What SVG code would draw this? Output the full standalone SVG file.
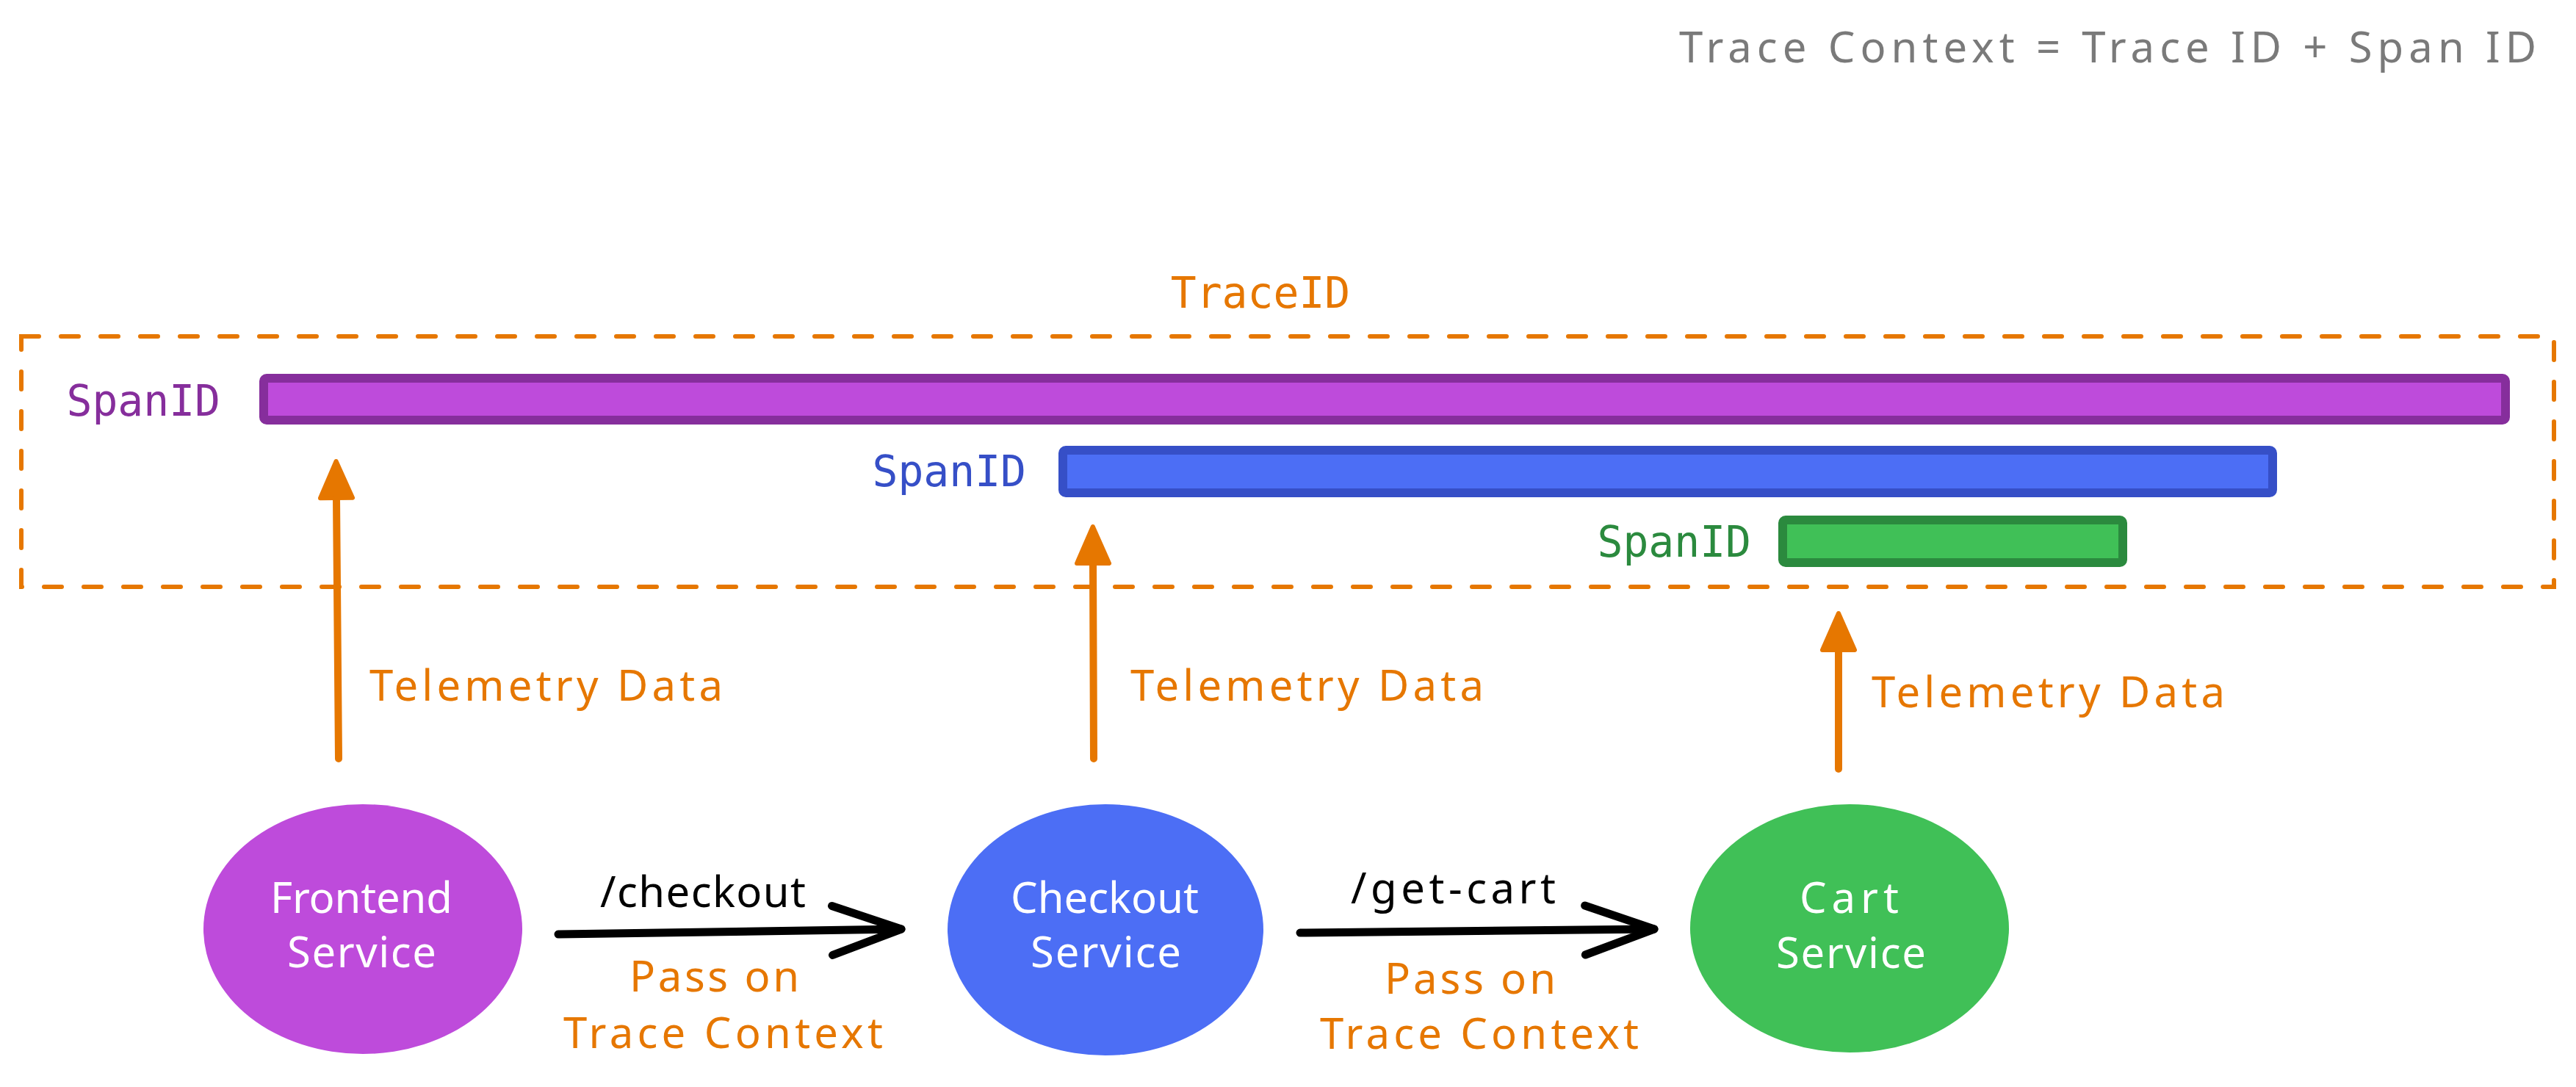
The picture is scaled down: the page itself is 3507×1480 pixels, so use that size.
<svg xmlns="http://www.w3.org/2000/svg" width="3507" height="1480" viewBox="0 0 3507 1480">
<style>
  .hand { font-family: "Noto Sans", "DejaVu Sans", sans-serif; font-size: 58px; }
  .mono { font-family: "DejaVu Sans Mono", "Liberation Mono", monospace; font-size: 58px; }
  .white { fill: #ffffff; }
  .orange { fill: #e67700; }
  .black { fill: #000000; }
  .gray { fill: #7a7a7a; }
  .tel { stroke: #e67700; stroke-width: 10; fill: none; stroke-linecap: round; }
  .call { stroke: #000000; stroke-width: 11; fill: none; stroke-linecap: round; stroke-linejoin: round; }
  .bar { stroke-width: 12; }
</style>
<defs>
  <marker id="headOrange" markerUnits="userSpaceOnUse" markerWidth="80" markerHeight="80" refX="0" refY="0" orient="auto" style="overflow:visible">
    <path d="M0,-22 L50,0 L0,22 Z" fill="#e67700" stroke="#e67700" stroke-width="6" stroke-linejoin="round"/>
  </marker>
  <marker id="headBlack" markerUnits="userSpaceOnUse" markerWidth="120" markerHeight="120" refX="0" refY="0" orient="auto" style="overflow:visible">
    <path d="M-94,-33 L0,0 L-94,34" fill="none" stroke="#000000" stroke-width="11" stroke-linecap="round" stroke-linejoin="round"/>
  </marker>
</defs>
<rect width="3507" height="1480" fill="#ffffff"/>

<text id="title" class="hand gray" x="2286" y="85" textLength="1167">Trace Context = Trace ID + Span ID</text>

<g id="trace">
  <rect x="29" y="458" width="3448" height="341" fill="none" stroke="#e67700" stroke-width="6" stroke-dasharray="24 30" stroke-linecap="round"/>
  <text class="mono orange" x="1716" y="419" text-anchor="middle">TraceID</text>
</g>

<g id="span-frontend">
  <rect class="bar" x="359" y="515" width="3052" height="57" rx="4" fill="#be4bdb" stroke="#862e9c"/>
  <text class="mono" x="300" y="566" text-anchor="end" fill="#862e9c">SpanID</text>
</g>
<g id="span-checkout">
  <rect class="bar" x="1447" y="613" width="1647" height="58" rx="4" fill="#4c6ef5" stroke="#364fc7"/>
  <text class="mono" x="1397" y="662" text-anchor="end" fill="#364fc7">SpanID</text>
</g>
<g id="span-cart">
  <rect class="bar" x="2427" y="708" width="463" height="58" rx="4" fill="#40c057" stroke="#2b8a3e"/>
  <text class="mono" x="2384" y="758" text-anchor="end" fill="#2b8a3e">SpanID</text>
</g>

<g id="node-frontend">
  <ellipse cx="494" cy="1265" rx="217" ry="170" fill="#be4bdb"/>
  <text class="hand white" x="368" y="1243" textLength="248">Frontend</text>
  <text class="hand white" x="391" y="1317" textLength="203">Service</text>
</g>
<g id="node-checkout">
  <ellipse cx="1505" cy="1266" rx="215" ry="171" fill="#4c6ef5"/>
  <text class="hand white" x="1376" y="1243" textLength="256">Checkout</text>
  <text class="hand white" x="1403" y="1317" textLength="205">Service</text>
</g>
<g id="node-cart">
  <ellipse cx="2518" cy="1264" rx="217" ry="169" fill="#40c057"/>
  <text class="hand white" x="2450" y="1243" textLength="135">Cart</text>
  <text class="hand white" x="2418" y="1318" textLength="204">Service</text>
</g>

<g id="connectors">
  <line class="tel" x1="461" y1="1033" x2="458" y2="678" marker-end="url(#headOrange)"/>
  <line class="tel" x1="1489" y1="1033" x2="1488" y2="767" marker-end="url(#headOrange)"/>
  <line class="tel" x1="2503" y1="1047" x2="2503" y2="885" marker-end="url(#headOrange)"/>
  <line class="call" x1="760" y1="1272" x2="1227" y2="1265" marker-end="url(#headBlack)"/>
  <line class="call" x1="1770" y1="1270" x2="2252" y2="1265" marker-end="url(#headBlack)"/>
</g>

<g id="labels">
  <text class="hand orange" x="503" y="954" textLength="481">Telemetry Data</text>
  <text class="hand orange" x="1539" y="954" textLength="481">Telemetry Data</text>
  <text class="hand orange" x="2548" y="963" textLength="481">Telemetry Data</text>
  <text class="hand black" x="817" y="1235" textLength="280">/checkout</text>
  <text class="hand orange" x="857" y="1350" textLength="231">Pass on</text>
  <text class="hand orange" x="767" y="1427" textLength="435">Trace Context</text>
  <text class="hand black" x="1839" y="1230" textLength="279">/get-cart</text>
  <text class="hand orange" x="1885" y="1353" textLength="233">Pass on</text>
  <text class="hand orange" x="1797" y="1428" textLength="434">Trace Context</text>
</g>
</svg>
